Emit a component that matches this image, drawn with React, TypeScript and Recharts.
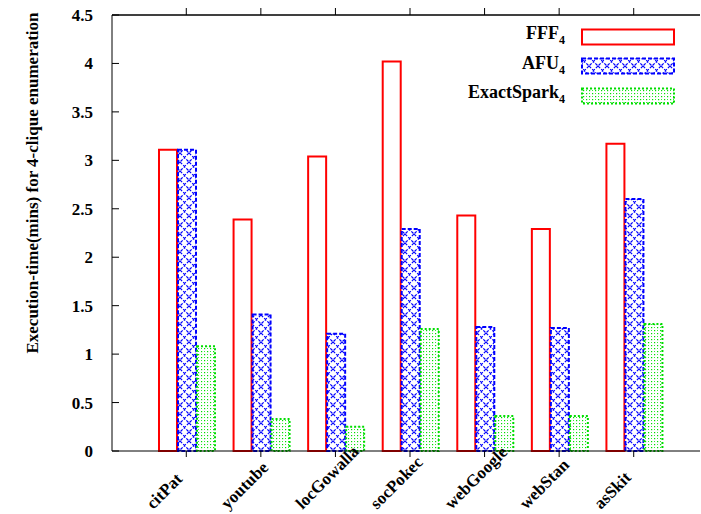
import { BarChart, Bar, XAxis, YAxis, Legend, ReferenceLine } from 'recharts';

const categories = ['citPat', 'youtube', 'locGowalla', 'socPokec', 'webGoogle', 'webStan', 'asSkit'];
const fffValues = [3.11, 2.39, 3.04, 4.02, 2.43, 2.29, 3.17];
const afuValues = [3.11, 1.41, 1.21, 2.29, 1.28, 1.27, 2.6];
const exactSparkValues = [1.08, 0.33, 0.25, 1.26, 0.36, 0.36, 1.31];
const yTicks = [0, 0.5, 1, 1.5, 2, 2.5, 3, 3.5, 4, 4.5];

const FONT = '"Liberation Serif", "Times New Roman", serif';
const PLOT_LEFT = 112;
const PLOT_TOP = 15;
const PLOT_BOTTOM = 451;

const series = [
  { key: 'fff', name: 'FFF', fill: '#ffffff', stroke: '#ff0000', dash: undefined },
  { key: 'afu', name: 'AFU', fill: 'url(#afuPattern)', stroke: '#0000ff', dash: '4 2' },
  { key: 'exact', name: 'ExactSpark', fill: 'url(#exactPattern)', stroke: '#00dd00', dash: '2 2' },
];

const data = categories.map((name, i) => ({
  name,
  fff: fffValues[i],
  afu: afuValues[i],
  exact: exactSparkValues[i],
}));

const YTick = ({ y, payload }: any) => (
  <g>
    <line x1={PLOT_LEFT} x2={PLOT_LEFT + 7} y1={y} y2={y} stroke="#000" />
    <text x={PLOT_LEFT - 19} y={y} dy={6} textAnchor="end" fontFamily={FONT} fontWeight="bold" fontSize={17} fill="#000">
      {payload.value}
    </text>
  </g>
);

// labels are start-anchored below-left of the tick and run up to the right
const XTick = ({ x, payload }: any) => {
  const tx = x - 33;
  const ty = 510;
  return (
    <g>
      <line x1={x} x2={x} y1={PLOT_BOTTOM} y2={PLOT_BOTTOM + 6} stroke="#000" />
      <text
        x={tx}
        y={ty}
        textAnchor="start"
        transform={`rotate(-45, ${tx}, ${ty})`}
        fontFamily={FONT}
        fontWeight="bold"
        fontSize={17}
        fill="#000"
      >
        {payload.value}
      </text>
    </g>
  );
};

const TopTick = ({ x }: any) => (
  <line x1={x} x2={x} y1={PLOT_TOP} y2={PLOT_TOP - 7} stroke="#000" />
);

const YLabel = () => (
  <text
    x={38}
    y={183}
    textAnchor="middle"
    transform="rotate(-90, 38, 183)"
    fontFamily={FONT}
    fontWeight="bold"
    fontSize={17}
    fill="#000"
  >
    Execution-time(mins) for 4-clique enumeration
  </text>
);

const LegendBox = () => (
  <div style={{ fontFamily: FONT, fontWeight: 'bold', fontSize: 18 }}>
    {series.map((s) => (
      <div key={s.key} style={{ display: 'flex', alignItems: 'center', height: 29.5 }}>
        <div style={{ width: 183, textAlign: 'right', lineHeight: '20px' }}>
          {s.name}
          <sub style={{ fontSize: 12, verticalAlign: '-5px' }}>4</sub>
        </div>
        <svg width={96} height={18} style={{ marginLeft: 15 }}>
          <rect x={2} y={1.5} width={92} height={15} fill={s.fill} stroke={s.stroke} strokeWidth={2} strokeDasharray={s.dash} />
        </svg>
      </div>
    ))}
  </div>
);

export default function App() {
  return (
    <div style={{ position: 'absolute', top: 0, left: 0, width: 701, height: 514, background: '#fff' }}>
      <BarChart
        width={701}
        height={514}
        data={data}
        margin={{ top: PLOT_TOP - 1, right: 1, bottom: 0, left: 0 }}
        barCategoryGap={10}
        barGap={1}
      >
        <defs>
          <pattern id="afuPattern" width={9} height={9} patternUnits="userSpaceOnUse">
            <rect width={9} height={9} fill="#fff" />
            <path d="M0,0 L9,9 M9,0 L0,9" stroke="#0000ff" strokeWidth={1.2} strokeDasharray="3 1.5" />
          </pattern>
          <pattern id="exactPattern" width={6} height={6} patternUnits="userSpaceOnUse">
            <rect width={6} height={6} fill="#fff" />
            <rect x={0} y={0} width={1.2} height={1.2} fill="#00dd00" />
            <rect x={3} y={3} width={1.2} height={1.2} fill="#00dd00" />
            <rect x={3} y={0} width={1} height={1} fill="#33ee33" />
            <rect x={0} y={3} width={1} height={1} fill="#33ee33" />
          </pattern>
        </defs>
        <XAxis
          dataKey="name"
          height={63}
          padding={{ left: 37, right: 29 }}
          axisLine={{ stroke: '#000' }}
          tickLine={false}
          tick={<XTick />}
          interval={0}
        />
        <XAxis
          xAxisId="top"
          dataKey="name"
          orientation="top"
          height={1}
          padding={{ left: 37, right: 29 }}
          axisLine={{ stroke: '#000' }}
          tickLine={false}
          tick={<TopTick />}
          interval={0}
        />
        <YAxis
          width={112}
          domain={[0, 4.5]}
          ticks={yTicks}
          axisLine={{ stroke: '#000' }}
          tickLine={false}
          tick={<YTick />}
          interval={0}
          label={<YLabel />}
        />
        <ReferenceLine y={4.5} stroke="#000" />
        <Legend
          layout="horizontal"
          verticalAlign="middle"
          align="center"
          content={<LegendBox />}
          wrapperStyle={{ position: 'absolute', top: 22, left: 382, width: 310, height: 90 }}
        />
        {series.map((s) => (
          <Bar
            key={s.key}
            dataKey={s.key}
            name={s.name}
            fill={s.fill}
            stroke={s.stroke}
            strokeWidth={2}
            strokeDasharray={s.dash}
            isAnimationActive={false}
          />
        ))}
      </BarChart>
    </div>
  );
}
